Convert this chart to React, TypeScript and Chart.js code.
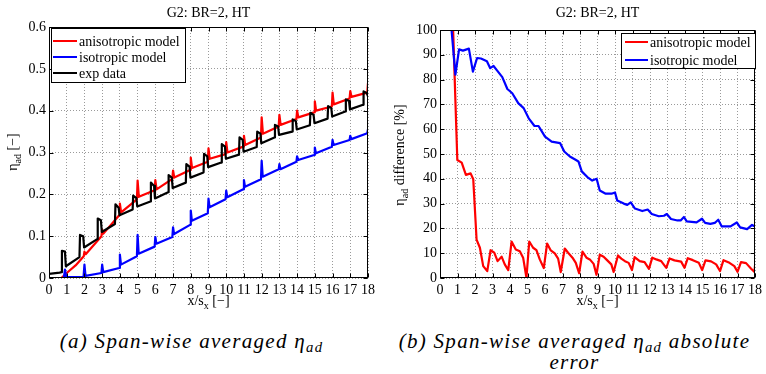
import React, { useEffect, useRef } from "react";
import { Chart, registerables } from "chart.js";

Chart.register(...registerables);

const FONT = '"Liberation Serif", "DejaVu Serif", "Times New Roman", Times, serif';

// ---------- Left panel: span-wise averaged eta_ad ----------
const xTicksLabels = ["0","1","2","3","4","5","6","7","8","9","10","11","12","13","14","15","16","17","18"];

const anisoX = [0, 0.7, 1.0, 1.5, 1.96, 2.0, 2.07, 2.96, 3.0, 3.07, 3.96, 4.0, 4.07, 4.96, 5.0, 5.07, 5.96, 6.0, 6.07, 6.96, 7.0, 7.07, 7.96, 8.0, 8.07, 8.96, 9.0, 9.07, 9.96, 10.0, 10.07, 10.96, 11.0, 11.07, 11.96, 12.0, 12.07, 12.96, 13.0, 13.07, 13.96, 14.0, 14.07, 14.96, 15.0, 15.07, 15.96, 16.0, 16.07, 16.96, 17.0, 17.07, 17.96, 18.0];
const anisoY = [0, 0, 0.012, 0.03, 0.052, 0.063, 0.057, 0.1, 0.116, 0.106, 0.15, 0.178, 0.157, 0.188, 0.233, 0.194, 0.21, 0.234, 0.212, 0.237, 0.257, 0.24, 0.258, 0.288, 0.263, 0.278, 0.31, 0.285, 0.296, 0.325, 0.3, 0.314, 0.34, 0.318, 0.336, 0.384, 0.345, 0.362, 0.39, 0.366, 0.38, 0.4, 0.384, 0.396, 0.422, 0.4, 0.41, 0.443, 0.415, 0.429, 0.447, 0.433, 0.443, 0.466];

const isoX = [0, 0.84, 0.9, 0.97, 1.95, 2.0, 2.06, 2.96, 3.0, 3.06, 3.96, 4.0, 4.06, 4.96, 5.0, 5.06, 5.96, 6.0, 6.06, 6.96, 7.0, 7.06, 7.96, 8.0, 8.06, 8.96, 9.0, 9.06, 9.96, 10.0, 10.06, 10.96, 11.0, 11.06, 11.96, 12.0, 12.06, 12.96, 13.0, 13.06, 13.96, 14.0, 14.06, 14.96, 15.0, 15.06, 15.96, 16.0, 16.06, 16.96, 17.0, 17.06, 17.96, 18.0];
const isoY = [0, 0, 0.02, 0.002, 0.003, 0.032, 0.005, 0.012, 0.032, 0.014, 0.024, 0.056, 0.032, 0.052, 0.103, 0.058, 0.075, 0.098, 0.082, 0.098, 0.121, 0.105, 0.127, 0.161, 0.137, 0.155, 0.19, 0.169, 0.188, 0.209, 0.193, 0.212, 0.234, 0.218, 0.236, 0.28, 0.242, 0.26, 0.272, 0.26, 0.278, 0.291, 0.282, 0.294, 0.312, 0.298, 0.314, 0.33, 0.318, 0.33, 0.34, 0.332, 0.346, 0.356];

const expX = [0, 0.6, 0.7, 0.73, 0.9, 0.95,
  1.72, 1.75, 1.93, 1.98, 2.72, 2.75, 2.93, 2.98, 3.72, 3.75, 3.93, 3.98, 4.72, 4.75, 4.93, 4.98,
  5.72, 5.75, 5.93, 5.98, 6.72, 6.75, 6.93, 6.98, 7.72, 7.75, 7.93, 7.98, 8.72, 8.75, 8.93, 8.98,
  9.72, 9.75, 9.93, 9.98, 10.72, 10.75, 10.93, 10.98, 11.72, 11.75, 11.93, 11.98, 12.72, 12.75, 12.93, 12.98,
  13.72, 13.75, 13.93, 13.98, 14.72, 14.75, 14.93, 14.98, 15.72, 15.75, 15.93, 15.98, 16.72, 16.75, 16.93, 16.98,
  17.72, 17.75, 17.93, 18.0];
const expY = [0.01, 0.013, 0.014, 0.065, 0.063, 0.028,
  0.05, 0.103, 0.1, 0.073, 0.093, 0.142, 0.138, 0.11, 0.129, 0.176, 0.168, 0.15, 0.164, 0.197, 0.191, 0.171,
  0.183, 0.228, 0.22, 0.19, 0.205, 0.246, 0.24, 0.215, 0.228, 0.272, 0.266, 0.24, 0.252, 0.297, 0.291, 0.265,
  0.276, 0.32, 0.314, 0.285, 0.295, 0.336, 0.33, 0.302, 0.313, 0.35, 0.345, 0.322, 0.336, 0.366, 0.362, 0.342,
  0.35, 0.379, 0.375, 0.355, 0.365, 0.395, 0.39, 0.37, 0.381, 0.411, 0.406, 0.386, 0.398, 0.427, 0.423, 0.403,
  0.414, 0.446, 0.442, 0.434];

// ---------- Right panel: absolute error [%] ----------
const errAnisoX = [0, 0.75, 0.99, 1.24, 1.48, 1.75, 1.9, 2.09, 2.28, 2.47, 2.7, 2.89, 3.1, 3.29, 3.52, 3.7, 3.9,
  4.09, 4.33, 4.56, 4.75, 4.94, 5.1, 5.32, 5.51, 5.7, 5.93, 6.12, 6.33, 6.56, 6.75, 6.9, 7.13, 7.32, 7.57, 7.76, 7.95,
  8.14, 8.37, 8.56, 8.78, 8.94, 9.13, 9.35, 9.56, 9.79, 9.92, 10.17, 10.36, 10.57, 10.78, 10.97, 11.12, 11.41, 11.69, 11.94,
  12.13, 12.36, 12.64, 12.93, 13.12, 13.4, 13.78, 13.97, 14.16, 14.45, 14.79, 14.98, 15.17, 15.49, 15.78, 16.0,
  16.2, 16.54, 16.82, 17.0, 17.2, 17.49, 17.78, 17.97, 18.0];
const errAnisoY = [100, 100, 47.6, 46.5, 41.6, 42.2, 39.8, 15.5, 12.2, 4.8, 2.8, 11.2, 10.2, 6.8, 8.6, 5.5, 3.2,
  14.7, 11.5, 10.8, 8.2, 0.1, 14.7, 12.2, 11.2, 7.5, 4.0, 13.9, 11.1, 9.9, 7.8, 2.4, 11.9, 10.2, 8.2, 6.1, 1.9,
  10.6, 8.2, 7.5, 5.7, 1.3, 9.4, 8.6, 7.1, 5.5, 2.4, 9.1, 7.8, 6.8, 6.1, 3.2, 8.4, 6.8, 6.4, 3.7,
  8.2, 7.5, 6.8, 4.1, 7.9, 7.1, 6.6, 4.1, 8.0, 7.2, 6.1, 3.2, 7.1, 6.7, 5.5, 2.8,
  7.2, 6.1, 4.8, 2.5, 6.4, 6.0, 3.7, 2.4, 5.0];

const errIsoX = [0, 0.66, 0.88, 1.09, 1.31, 1.65, 1.88, 2.12, 2.34, 2.68, 2.87, 3.06, 3.28, 3.56, 3.85, 4.13, 4.47, 4.78, 5.07, 5.4,
  5.63, 6.0, 6.38, 6.86, 7.1, 7.42, 7.77, 7.91, 8.1, 8.42, 8.7, 8.95, 9.13, 9.47, 9.8, 10.0, 10.13, 10.5, 10.7, 10.9,
  11.14, 11.56, 11.87, 12.1, 12.5, 12.8, 12.96, 13.2, 13.57, 13.75, 13.94, 14.1, 14.66, 14.97, 15.15, 15.45, 15.7, 15.9, 16.1, 16.6,
  16.96, 17.15, 17.55, 17.83, 18.0];
const errIsoY = [100, 100, 82, 92.2, 91.7, 92.5, 83.2, 88.7, 88.5, 87.4, 84.6, 85.5, 83.5, 81, 76.2, 74.5, 70.5, 68.5, 64.4, 61.3,
  61.3, 57, 55, 54.4, 51, 49, 47.6, 47, 43, 40.7, 39.3, 40, 35.3, 34, 34, 34.5, 31.2, 30, 29.5, 30.5,
  28, 27, 27.6, 25.8, 24.9, 25.1, 25.8, 23.8, 23.2, 23.2, 24.6, 22.8, 22.4, 23.9, 22.2, 21.8, 22.2, 23.5, 20.8, 20.8,
  22.4, 20.4, 19.7, 21.4, 20.8];

const leftLabels = ["anisotropic model", "isotropic model", "exp data"];
const leftColors = ["#ff0000", "#0000ff", "#000000"];
const rightLabels = ["anisotropic model", "isotropic model"];
const rightColors = ["#ff0000", "#0000ff"];
const titleText = "G2: BR=2, HT";

type Part = [string, boolean];

function toPoints(xs: number[], ys: number[]) {
  return xs.map((x, i) => ({ x, y: ys[i] }));
}

function drawParts(ctx: CanvasRenderingContext2D, parts: Part[], x: number, y: number, size: number) {
  const sub = size * 0.72;
  let total = 0;
  const widths: number[] = [];
  for (const [t, s] of parts) {
    ctx.font = `${s ? sub : size}px ${FONT}`;
    const w = ctx.measureText(t).width;
    widths.push(w);
    total += w;
  }
  let cx = x - total / 2;
  parts.forEach(([t, s], i) => {
    ctx.font = `${s ? sub : size}px ${FONT}`;
    ctx.fillText(t, cx, s ? y + size * 0.32 : y);
    cx += widths[i];
  });
}

interface FrameCfg {
  xTitle: Part[];
  yTitle: Part[];
  xTitleY: number;
  yTitleX: number;
  yTitleY: number;
  labels: string[];
  colors: string[];
  box: [number, number, number, number];
  rows: number[];
  lineX: [number, number];
  textX: number;
}

function framePlugin(cfg: FrameCfg) {
  return {
    id: "matlabFrame",
    afterDraw(chart: any) {
      const ctx: CanvasRenderingContext2D = chart.ctx;
      const { left, right, top, bottom } = chart.chartArea;
      ctx.save();
      ctx.strokeStyle = "#000";
      ctx.lineWidth = 1;
      ctx.setLineDash([]);
      const L = Math.round(left) + 0.5, R = Math.round(right) - 0.5;
      const T = Math.round(top) + 0.5, B = Math.round(bottom) - 0.5;
      ctx.strokeRect(L, T, R - L, B - T);
      // inward ticks
      const xs = chart.scales.x, ys = chart.scales.y;
      ctx.beginPath();
      xs.ticks.forEach((t: any) => {
        const p = Math.round(xs.getPixelForValue(t.value)) + 0.5;
        ctx.moveTo(p, B); ctx.lineTo(p, B - 4);
        ctx.moveTo(p, T); ctx.lineTo(p, T + 4);
      });
      ys.ticks.forEach((t: any) => {
        const p = Math.round(ys.getPixelForValue(t.value)) + 0.5;
        ctx.moveTo(L, p); ctx.lineTo(L + 4, p);
        ctx.moveTo(R, p); ctx.lineTo(R - 4, p);
      });
      ctx.stroke();
      // title
      ctx.fillStyle = "#000";
      ctx.textAlign = "left";
      ctx.textBaseline = "alphabetic";
      drawParts(ctx, [[titleText, false]], (left + right) / 2, 17, 14);
      // x title
      drawParts(ctx, cfg.xTitle, (left + right) / 2, cfg.xTitleY, 14);
      // y title
      ctx.save();
      ctx.translate(cfg.yTitleX, cfg.yTitleY);
      ctx.rotate(-Math.PI / 2);
      drawParts(ctx, cfg.yTitle, 0, 0, 14);
      ctx.restore();
      // legend
      const [bx, by, bw, bh] = cfg.box;
      ctx.fillStyle = "#fff";
      ctx.fillRect(bx, by, bw, bh);
      ctx.strokeStyle = "#000";
      ctx.lineWidth = 1;
      ctx.strokeRect(bx + 0.5, by + 0.5, bw, bh);
      cfg.labels.forEach((lab, i) => {
        const y = cfg.rows[i];
        ctx.strokeStyle = cfg.colors[i];
        ctx.lineWidth = 2;
        ctx.beginPath();
        ctx.moveTo(cfg.lineX[0], y);
        ctx.lineTo(cfg.lineX[1], y);
        ctx.stroke();
        ctx.fillStyle = "#000";
        ctx.font = `14px ${FONT}`;
        ctx.textAlign = "left";
        ctx.textBaseline = "middle";
        ctx.fillText(lab, cfg.textX, y + 1);
      });
      ctx.restore();
    },
  };
}

function makeConfig(opts: {
  datasets: any[];
  yMax: number;
  yStep: number;
  yFmt: (v: number) => string;
  yWidth: number;
  padRight: number;
  padTop: number;
  frame: FrameCfg;
}) {
  const tickFont = { family: FONT, size: 14 };
  return {
    type: "line" as const,
    data: { datasets: opts.datasets },
    options: {
      animation: false,
      responsive: false,
      events: [],
      layout: { padding: { left: 0, right: opts.padRight, top: opts.padTop, bottom: 0 } },
      plugins: { legend: { display: false }, title: { display: false }, tooltip: { enabled: false } },
      elements: { point: { radius: 0 }, line: { borderWidth: 2.2, tension: 0, borderJoinStyle: "round" } },
      scales: {
        x: {
          type: "linear",
          min: 0,
          max: 18,
          afterBuildTicks: (s: any) => {
            s.ticks = xTicksLabels.map((l) => ({ value: Number(l) }));
          },
          ticks: {
            autoSkip: false,
            maxRotation: 0,
            padding: 4,
            color: "#000",
            font: tickFont,
            callback: (v: any) => String(v),
          },
          grid: { color: "#9a9a9a", drawTicks: false, lineWidth: 1 },
          border: { display: false, dash: [1, 2] },
          afterFit: (s: any) => { s.height = 32; },
        },
        y: {
          min: 0,
          max: opts.yMax,
          ticks: {
            stepSize: opts.yStep,
            padding: 3,
            color: "#000",
            font: tickFont,
            callback: (v: any) => opts.yFmt(Number(v)),
          },
          grid: { color: "#9a9a9a", drawTicks: false, lineWidth: 1 },
          border: { display: false, dash: [1, 2] },
          afterFit: (s: any) => { s.width = opts.yWidth; },
        },
      },
    },
    plugins: [framePlugin(opts.frame)],
  };
}

export default function App() {
  const leftRef = useRef<HTMLCanvasElement>(null);
  const rightRef = useRef<HTMLCanvasElement>(null);

  useEffect(() => {
    const leftCfg = makeConfig({
      datasets: [
        { label: leftLabels[0], data: toPoints(anisoX, anisoY), borderColor: leftColors[0], order: 2 },
        { label: leftLabels[1], data: toPoints(isoX, isoY), borderColor: leftColors[1], order: 1 },
        { label: leftLabels[2], data: toPoints(expX, expY), borderColor: leftColors[2], order: 0 },
      ],
      yMax: 0.6,
      yStep: 0.1,
      yFmt: (v) => (Math.abs(v) < 1e-9 ? "0" : v.toFixed(1)),
      yWidth: 49,
      padRight: 15,
      padTop: 27,
      frame: {
        xTitle: [["x/s", false], ["x", true], [" [\u2212]", false]],
        yTitle: [["\u03b7", false], ["ad", true], [" [\u2212]", false]],
        xTitleY: 305,
        yTitleX: 17,
        yTitleY: 152,
        labels: leftLabels,
        colors: leftColors,
        box: [51, 28, 134, 54],
        rows: [41, 57, 73],
        lineX: [53, 77],
        textX: 79,
      },
    });
    const rightCfg = makeConfig({
      datasets: [
        { label: rightLabels[0], data: toPoints(errAnisoX, errAnisoY), borderColor: rightColors[0], order: 1 },
        { label: rightLabels[1], data: toPoints(errIsoX, errIsoY), borderColor: rightColors[1], order: 0 },
      ],
      yMax: 100,
      yStep: 10,
      yFmt: (v) => String(Math.round(v)),
      yWidth: 57,
      padRight: 9,
      padTop: 30,
      frame: {
        xTitle: [["x/s", false], ["x", true], [" [\u2212]", false]],
        yTitle: [["\u03b7", false], ["ad", true], [" difference [%]", false]],
        xTitleY: 305,
        yTitleX: 21,
        yTitleY: 155,
        labels: rightLabels,
        colors: rightColors,
        box: [238, 33, 134, 35],
        rows: [42, 60],
        lineX: [242, 265],
        textX: 267,
      },
    });
    const c1 = new Chart(leftRef.current as HTMLCanvasElement, leftCfg as any);
    const c2 = new Chart(rightRef.current as HTMLCanvasElement, rightCfg as any);
    return () => {
      c1.destroy();
      c2.destroy();
    };
  }, []);

  const capStyle: React.CSSProperties = {
    position: "absolute",
    width: 383,
    textAlign: "center",
    fontFamily: FONT,
    fontStyle: "italic",
    fontSize: 21,
    letterSpacing: "1.3px",
    lineHeight: "21px",
    whiteSpace: "nowrap",
    color: "#000",
  };
  const subStyle: React.CSSProperties = { fontSize: "0.7em", verticalAlign: "-0.3em", lineHeight: 0 };

  return (
    <div style={{ position: "fixed", left: 0, top: 0, width: 766, height: 374, background: "#fff", overflow: "hidden" }}>
      <canvas ref={leftRef} width={383} height={310} style={{ position: "absolute", left: 0, top: 0 }} />
      <canvas ref={rightRef} width={383} height={310} style={{ position: "absolute", left: 383, top: 0 }} />
      <div style={{ ...capStyle, left: 0, top: 331 }}>
        (a) Span-wise averaged η<span style={subStyle}>ad</span>
      </div>
      <div style={{ ...capStyle, left: 383, top: 331 }}>
        (b) Span-wise averaged η<span style={subStyle}>ad</span> absolute
      </div>
      <div style={{ ...capStyle, left: 383, top: 352 }}>error</div>
    </div>
  );
}
